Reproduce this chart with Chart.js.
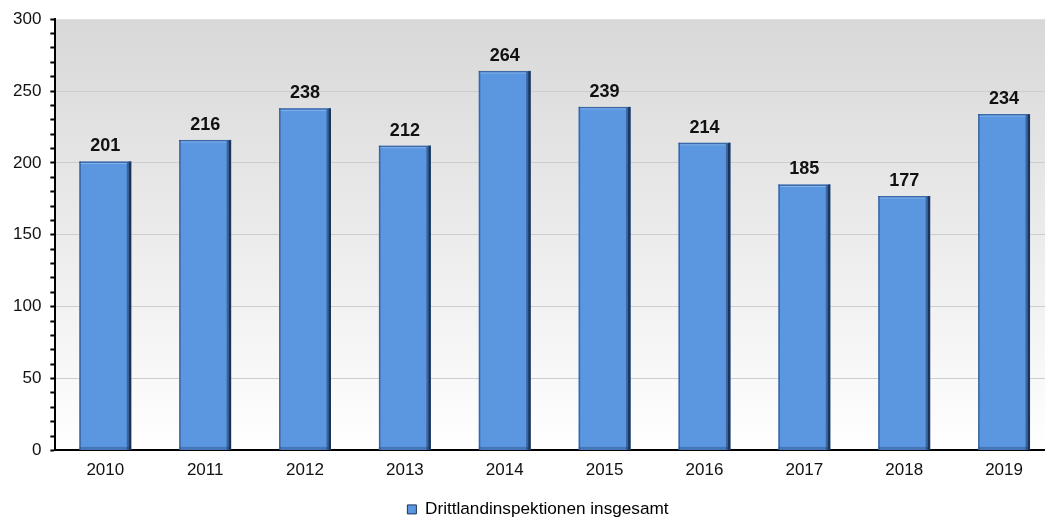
<!DOCTYPE html>
<html>
<head>
<meta charset="utf-8">
<script src="https://cdn.jsdelivr.net/npm/chart.js@4.4.1/dist/chart.umd.min.js"></script>
<style>
  html, body { margin: 0; padding: 0; background: #fff; overflow: hidden; }
  #wrap { width: 1076px; height: 518px; }
</style>
</head>
<body>
<div id="wrap"><canvas id="c" width="1076" height="518"></canvas></div>
<script>
const years = ['2010', '2011', '2012', '2013', '2014', '2015', '2016', '2017', '2018', '2019'];
const inspections = [201, 216, 238, 212, 264, 239, 214, 185, 177, 234];
const seriesName = 'Drittlandinspektionen insgesamt';
const yMin = 0, yMax = 300, yStep = 10, yLabelStep = 50;

const FONT = '"Liberation Sans", Arial, sans-serif';
const BAR_FILL = '#5b97e1';
const BAR_DARK = '#1c3459';

// Plot background: grey at the top fading to white at the base
const plotBackground = {
  id: 'plotBackground',
  beforeDraw(chart) {
    const { ctx, chartArea: a } = chart;
    const g = ctx.createLinearGradient(0, a.top, 0, a.bottom);
    g.addColorStop(0, '#d8d8d8');
    g.addColorStop(1, '#ffffff');
    ctx.save();
    ctx.fillStyle = g;
    ctx.fillRect(a.left, a.top, a.right - a.left, a.bottom - a.top);
    ctx.restore();
  }
};

// Centre the legend under the whole page rather than the padded layout box
const legendShift = {
  id: 'legendShift',
  afterLayout(chart) {
    const lg = chart.legend;
    if (!lg) return;
    const dx = 9;
    lg.left += dx;
    lg.right += dx;
  }
};

// Bevel edges on each bar plus the value printed above it
const barDecor = {
  id: 'barDecor',
  afterDatasetsDraw(chart) {
    const { ctx } = chart;
    const meta = chart.getDatasetMeta(0);
    ctx.save();
    meta.data.forEach((bar, i) => {
      const l = bar.x - bar.width / 2, r = bar.x + bar.width / 2;
      const t = bar.y, b = bar.base;
      // bottom shade
      ctx.fillStyle = 'rgba(30,60,110,0.35)';
      ctx.fillRect(l, b - 3, r - l, 3);
      // right dark edge
      ctx.fillStyle = BAR_DARK;
      ctx.fillRect(r - 2.5, t, 2.5, b - t);
      ctx.fillStyle = 'rgba(28,52,89,0.5)';
      ctx.fillRect(r - 4.5, t + 1, 2, b - t - 1);
      // left edge
      ctx.fillStyle = 'rgba(40,75,130,0.65)';
      ctx.fillRect(l, t, 1.5, b - t);
      // top edge
      ctx.fillStyle = 'rgba(40,75,130,0.6)';
      ctx.fillRect(l, t, r - l, 1.5);
      ctx.fillStyle = 'rgba(160,200,245,0.6)';
      ctx.fillRect(l + 1.5, t + 1.5, r - l - 6, 1);
      // value label
      ctx.fillStyle = '#111';
      ctx.font = 'bold 18px ' + FONT;
      ctx.textAlign = 'center';
      ctx.textBaseline = 'bottom';
      ctx.fillText(String(inspections[i]), bar.x, t - 6);
    });
    ctx.restore();
  }
};

new Chart(document.getElementById('c'), {
  type: 'bar',
  data: {
    labels: years,
    datasets: [{
      label: seriesName,
      data: inspections,
      backgroundColor: BAR_FILL,
      borderWidth: 0,
      barPercentage: 0.52,
      categoryPercentage: 1.0
    }]
  },
  options: {
    responsive: false,
    animation: false,
    layout: { padding: { top: 16, right: 22, left: 4, bottom: -10 } },
    plugins: {
      legend: {
        position: 'bottom',
        labels: {
          font: { family: FONT, size: 17.2 },
          color: '#111',
          boxWidth: 9,
          boxHeight: 9,
          padding: 2,
          generateLabels: () => [{
            text: seriesName,
            fillStyle: BAR_FILL,
            strokeStyle: BAR_DARK,
            lineWidth: 1,
            datasetIndex: 0
          }]
        }
      },
      tooltip: { enabled: false }
    },
    scales: {
      x: {
        grid: { display: false, drawTicks: false },
        border: { display: true, color: '#000', width: 2 },
        ticks: { font: { family: FONT, size: 17 }, color: '#111', padding: 10 },
        afterFit(scale) { scale.height += 8; }
      },
      y: {
        min: yMin,
        max: yMax,
        ticks: {
          stepSize: yStep,
          autoSkip: false,
          font: { family: FONT, size: 17 },
          color: '#111',
          padding: 9,
          callback: v => (v % yLabelStep === 0 ? String(v) : '')
        },
        grid: {
          drawOnChartArea: true,
          color: c => (c.tick && c.tick.value % yLabelStep === 0 && c.tick.value !== 0 && c.tick.value !== yMax) ? '#cdcdcd' : 'rgba(0,0,0,0)',
          tickColor: '#000',
          tickLength: 5,
          tickWidth: 2,
          lineWidth: 1
        },
        border: { display: true, color: '#000', width: 2 }
      }
    }
  },
  plugins: [plotBackground, legendShift, barDecor]
});
</script>
</body>
</html>
